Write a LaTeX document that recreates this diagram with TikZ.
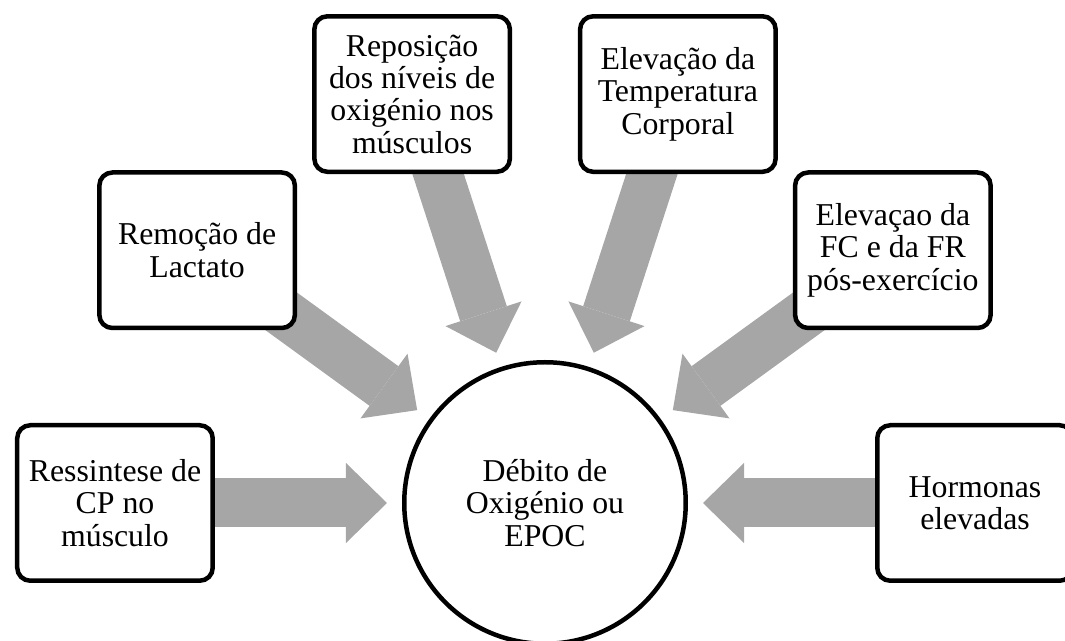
\documentclass[tikz,border=0pt]{standalone}
\usepackage{fontspec}
\setmainfont{Liberation Serif}
\usetikzlibrary{arrows.meta,backgrounds}
\definecolor{flowgray}{RGB}{166,166,166}

\begin{document}
\begin{tikzpicture}[
		box/.style={draw, line width=0.09cm, rounded corners=0.26cm, fill=white,
			minimum width=3.91cm, minimum height=3.11cm, inner sep=0pt,
			align=center, font=\fontsize{18.1}{18.4}\selectfont},
		hub/.style={draw, circle, line width=0.09cm, fill=white,
			minimum size=5.63cm, inner sep=0pt,
			align=center, font=\fontsize{18.1}{18.4}\selectfont},
		flow/.style={flowgray, line width=0.98cm, shorten >=0.3cm,
			-{Triangle[width=1.6cm, length=0.82cm, line width=0pt]}},
	]
		\useasboundingbox (-10.9,-2.76) rectangle (10.4,10.06);
		\node[hub] (epoc) at (0,0) {Débito de\\Oxigénio ou\\EPOC};
		\node[box] (cp) at (180:8.6) {Ressintese de\\CP no\\músculo};
		\node[box] (lactato) at (144:8.6) {Remoção de\\Lactato};
		\node[box] (oxigenio) at (108:8.6) {Reposição\\dos níveis de\\oxigénio nos\\músculos};
		\node[box] (temperatura) at (72:8.6) {Elevação da\\Temperatura\\Corporal};
		\node[box] (fcfr) at (36:8.6) {Elevaçao da\\FC e da FR\\pós-exercício};
		\node[box] (hormonas) at (0:8.6) {Hormonas\\elevadas};
		\begin{scope}[on background layer]
			\draw[flow] (cp.center) -- (epoc);
			\draw[flow] (lactato.center) -- (epoc);
			\draw[flow] (oxigenio.center) -- (epoc);
			\draw[flow] (temperatura.center) -- (epoc);
			\draw[flow] (fcfr.center) -- (epoc);
			\draw[flow] (hormonas.center) -- (epoc);
		\end{scope}
\end{tikzpicture}
\end{document}
